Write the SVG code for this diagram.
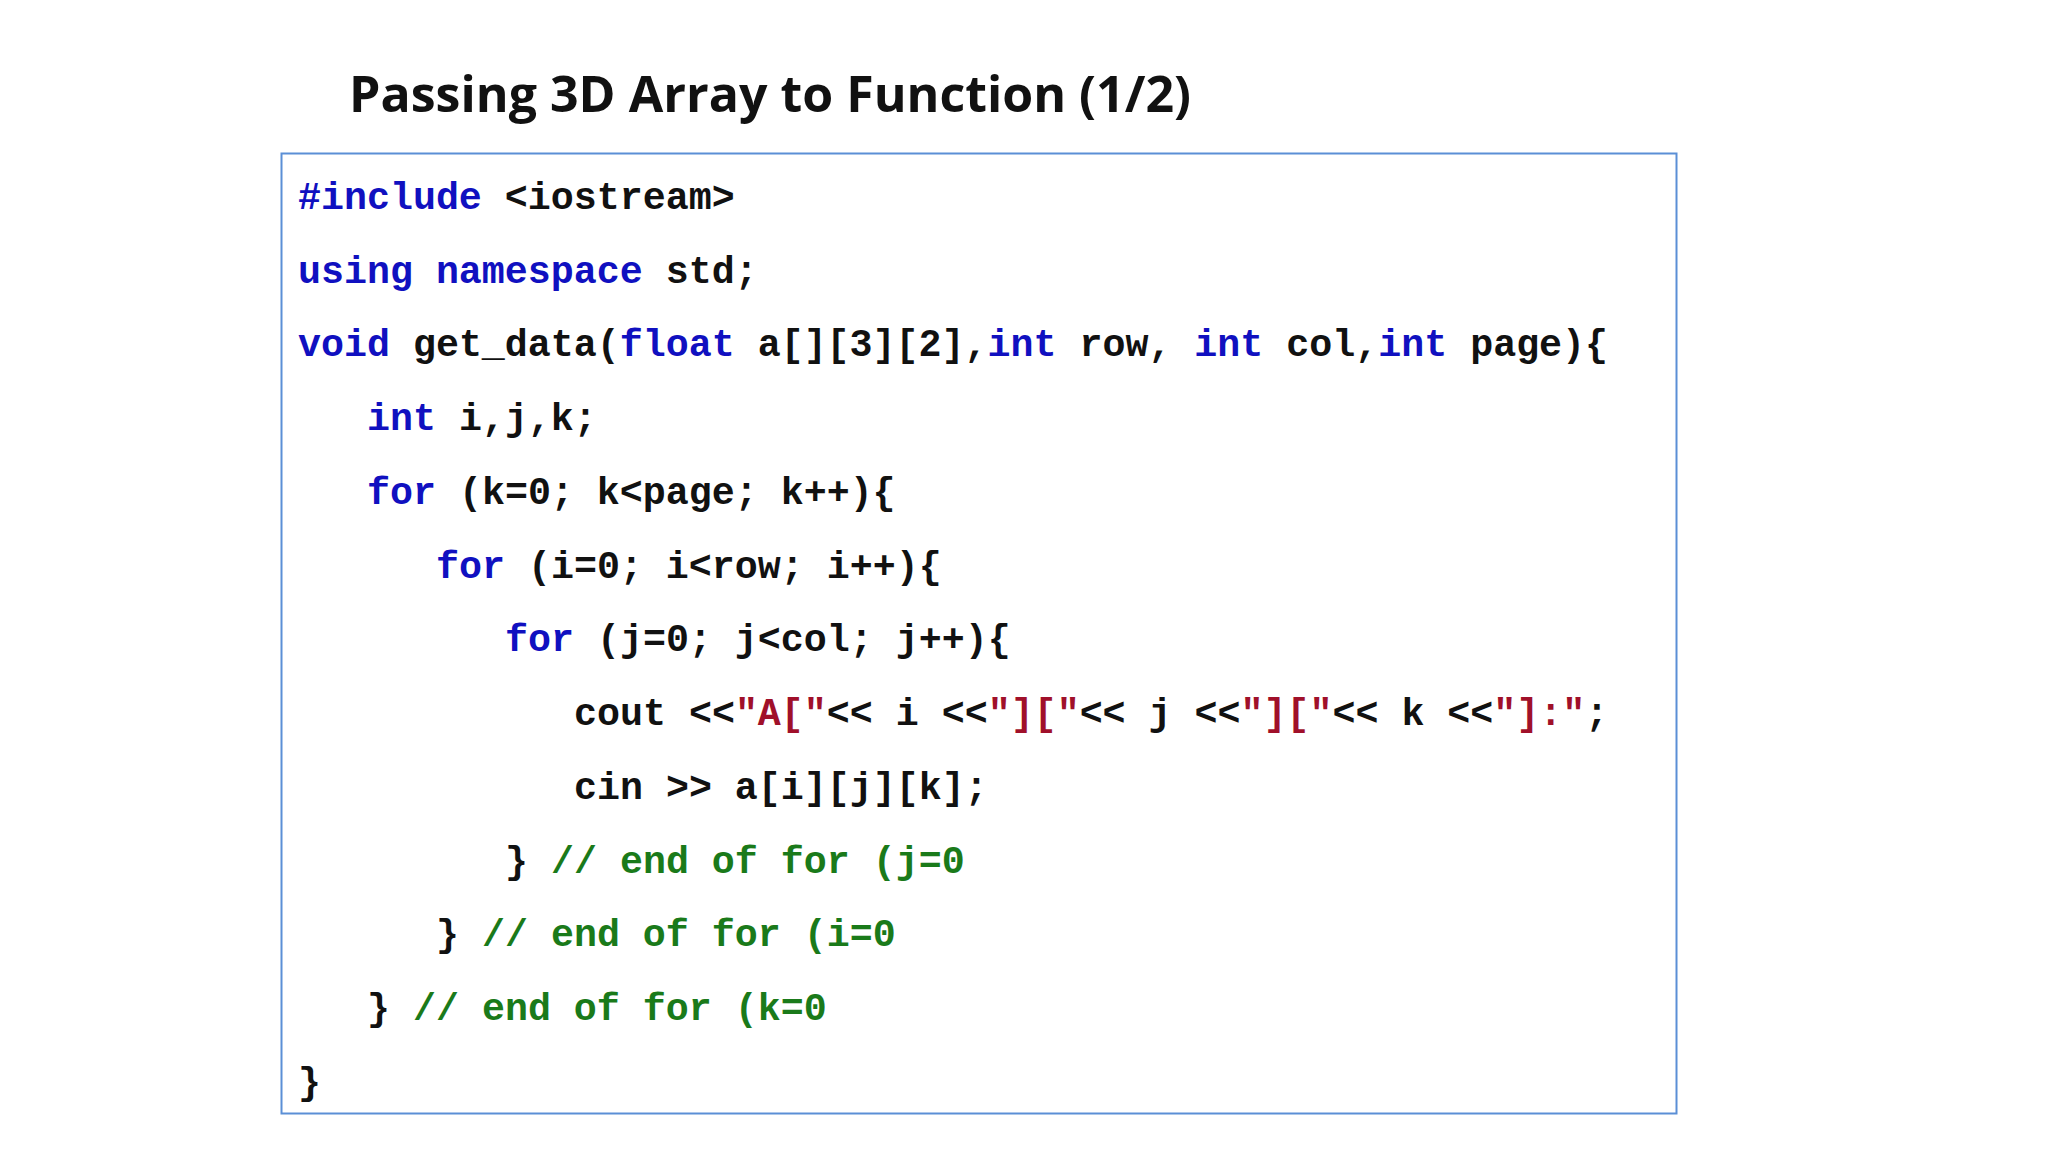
<svg xmlns="http://www.w3.org/2000/svg" width="2048" height="1152" viewBox="0 0 2048 1152">
<style>
.c{font-family:"Liberation Mono","Courier New",monospace;font-weight:bold;font-size:38.3px;fill:#111;white-space:pre}
.k{fill:#1010c0}.s{fill:#a0102a}.m{fill:#1a7a1a}
.t{font-family:"Open Sans","Liberation Sans",sans-serif;font-weight:bold;font-size:50px;fill:#111}
</style>
<rect width="2048" height="1152" fill="#fff"/>
<g id="title"><text class="t" x="349" y="112" textLength="842" lengthAdjust="spacingAndGlyphs">Passing 3D Array to Function (1/2)</text></g>
<g id="codebox">
<rect x="281.5" y="153.5" width="1395" height="960" fill="#fff" stroke="#5b8fd6" stroke-width="2"/>
<text class="c" x="298" y="209"><tspan class="k">#include</tspan> &lt;iostream&gt;</text>
<text class="c" x="298" y="283"><tspan class="k">using namespace</tspan> std;</text>
<text class="c" x="298" y="356"><tspan class="k">void</tspan> get_data(<tspan class="k">float</tspan> a[][3][2],<tspan class="k">int</tspan> row, <tspan class="k">int</tspan> col,<tspan class="k">int</tspan> page){</text>
<text class="c" x="367" y="430"><tspan class="k">int</tspan> i,j,k;</text>
<text class="c" x="367" y="504"><tspan class="k">for</tspan> (k=0; k&lt;page; k++){</text>
<text class="c" x="436" y="578"><tspan class="k">for</tspan> (i=0; i&lt;row; i++){</text>
<text class="c" x="505" y="651"><tspan class="k">for</tspan> (j=0; j&lt;col; j++){</text>
<text class="c" x="574" y="725">cout &lt;&lt;<tspan class="s">"A["</tspan>&lt;&lt; i &lt;&lt;<tspan class="s">"]["</tspan>&lt;&lt; j &lt;&lt;<tspan class="s">"]["</tspan>&lt;&lt; k &lt;&lt;<tspan class="s">"]:"</tspan>;</text>
<text class="c" x="574" y="799">cin &gt;&gt; a[i][j][k];</text>
<text class="c" x="505" y="873">} <tspan class="m">// end of for (j=0</tspan></text>
<text class="c" x="436" y="946">} <tspan class="m">// end of for (i=0</tspan></text>
<text class="c" x="367" y="1020">} <tspan class="m">// end of for (k=0</tspan></text>
<text class="c" x="298" y="1094">}</text>
</g>
</svg>
